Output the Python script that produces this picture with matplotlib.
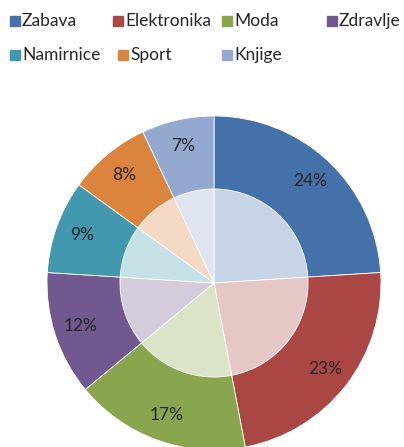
import matplotlib.pyplot as plt
from matplotlib.patches import Rectangle

categories = ['Zabava', 'Elektronika', 'Moda', 'Zdravlje', 'Namirnice', 'Sport', 'Knjige']
shares = [24, 23, 17, 12, 9, 8, 7]
colors = ['#4471A9', '#AA4643', '#89A54E', '#71588F', '#4198AF', '#DB843D', '#93A9CF']

plt.rcParams['font.family'] = ['Lato', 'DejaVu Sans']

W, H = 404, 447
fig = plt.figure(figsize=(W / 100, H / 100), dpi=100)

# pie centre (214, 283) px from top-left, radius 167 px
cx, cy, r = 214, 283, 167
ax = fig.add_axes([(cx - r) / W, (H - cy - r) / H, 2 * r / W, 2 * r / H])

wedges, _, autotexts = ax.pie(shares, colors=colors, startangle=90, counterclock=False,
                              radius=1.0, autopct='%.0f%%', pctdistance=0.84,
                              wedgeprops=dict(edgecolor='white', linewidth=0.6),
                              textprops=dict(fontsize=12.5, color='#262626'))

# lighter inner disc
inner = ax.pie(shares, colors=colors, startangle=90, counterclock=False, radius=0.563,
               wedgeprops=dict(edgecolor='white', linewidth=0.6))[0]
ax.pie([100], colors=['white'], radius=0.563, wedgeprops=dict(alpha=0.7, linewidth=0))

ax.set_xlim(-1, 1)
ax.set_ylim(-1, 1)
ax.set_aspect('equal')
ax.axis('off')

# legend laid out like the original (two rows)
legend_pos = [(10, 21), (113, 21), (222, 21), (327, 21),
              (10, 55), (118, 55), (222, 55)]
sq = 10
for name, col, (x, y) in zip(categories, colors, legend_pos):
    fig.patches.append(Rectangle((x / W, (H - y - sq / 2) / H), sq / W, sq / H,
                                 transform=fig.transFigure, color=col))
    fig.text((x + sq + 2) / W, (H - y) / H, name, fontsize=12.5, color='#262626',
             va='center', ha='left')

plt.savefig('out.png', dpi=100)
plt.close()
